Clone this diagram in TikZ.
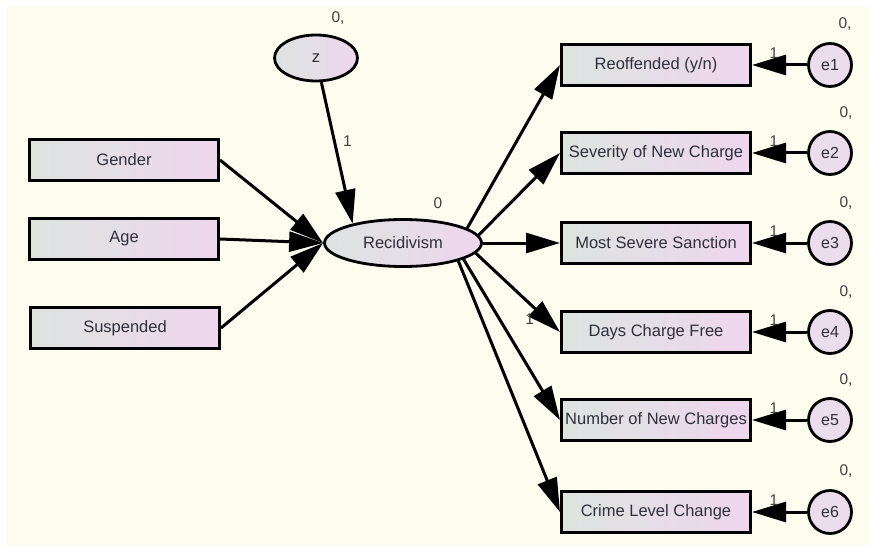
\documentclass[tikz,border=0pt]{standalone}
\usepackage{fontspec}
\setmainfont{Liberation Sans}
\usetikzlibrary{arrows.meta,shapes.geometric}
\definecolor{paper}{HTML}{FDFDEF}
\definecolor{boxleft}{HTML}{DDE4E0}
\definecolor{boxright}{HTML}{EED6EE}
\definecolor{errfill}{HTML}{ECDDEE}
\definecolor{ink}{HTML}{30303C}
\definecolor{numink}{HTML}{404040}
\begin{document}
\begin{tikzpicture}[x=1pt,y=-1pt,
  obs/.style={draw=black, line width=3pt, left color=boxleft, right color=boxright,
    minimum width=189pt, minimum height=41pt, inner sep=0pt,
    font=\fontsize{16.5}{19}\selectfont, text=ink},
  lat/.style={ellipse, draw=black, line width=2.8pt, left color=boxleft, right color=boxright,
    inner sep=0pt, font=\fontsize{16.5}{19}\selectfont, text=ink},
  err/.style={circle, draw=black, line width=2.8pt, fill=errfill, minimum size=43pt,
    inner sep=0pt, font=\fontsize{16}{19}\selectfont, text=ink},
  regpath/.style={line width=3pt, -{Triangle[length=34pt,width=20pt]}},
  num/.style={font=\fontsize{15.5}{18}\selectfont, text=numink, inner sep=1pt}]

% canvas
\useasboundingbox (0,0) rectangle (869,548);
\fill[paper] (7,6) rectangle (869,546);

% predictors
\node[obs] (gender) at (124,160) {Gender};
\node[obs] (age)    at (124,239) {Age};
\node[obs] (susp)   at (125,328) {Suspended};

% latent variable and its disturbance
\node[lat, minimum width=157pt, minimum height=47pt] (rec) at (403,243) {Recidivism};
\node[lat, minimum width=83pt, minimum height=46pt] (z) at (316,58) {z};
\node[num] (zvar) at (338,18) {0,};
\node[num] (recint) at (438,203) {0};

% indicators
\node[obs] (reo)   at (656,65)  {Reoffended (y/n)};
\node[obs] (sev)   at (656,153) {Severity of New Charge};
\node[obs] (most)  at (656,243) {Most Severe Sanction};
\node[obs] (days)  at (656,332) {Days Charge Free};
\node[obs] (numb)  at (656,420) {Number of New Charges};
\node[obs] (crime) at (656,512) {Crime Level Change};

% error terms
\node[err] (e1) at (830,65)  {e1};
\node[err] (e2) at (830,153) {e2};
\node[err] (e3) at (830,243) {e3};
\node[err] (e4) at (830,332) {e4};
\node[err] (e5) at (830,420) {e5};
\node[err] (e6) at (830,512) {e6};
\node[num] (v1) at (845,24)  {0,};
\node[num] (v2) at (846,113) {0,};
\node[num] (v3) at (846,203) {0,};
\node[num] (v4) at (846,292) {0,};
\node[num] (v5) at (846,380) {0,};
\node[num] (v6) at (846,471) {0,};

% structural paths
\draw[regpath] (gender.east) -- (rec.west);
\draw[regpath] (age.east) -- (rec.west);
\draw[regpath] (susp.east) -- (rec.west);
\draw[regpath] (z) -- node[num, pos=0.42, right=6pt] {1} (rec.159);

% measurement paths
\draw[regpath] (rec.13) -- (reo.west);
\draw[regpath] (rec.6) -- (sev.west);
\draw[regpath] (rec.east) -- (most.west);
\draw[regpath] (rec.-8) -- node[num, pos=0.64, below=8pt] {1} (days.west);
\draw[regpath] (rec.-15) -- (numb.west);
\draw[regpath] (rec.-18) -- (crime.west);

% error paths
\foreach \e/\b in {e1/reo, e2/sev, e3/most, e4/days, e5/numb, e6/crime}
  \draw[regpath] (\e) -- node[num, pos=0.6, above=4pt] {1} (\b);
\end{tikzpicture}
\end{document}
